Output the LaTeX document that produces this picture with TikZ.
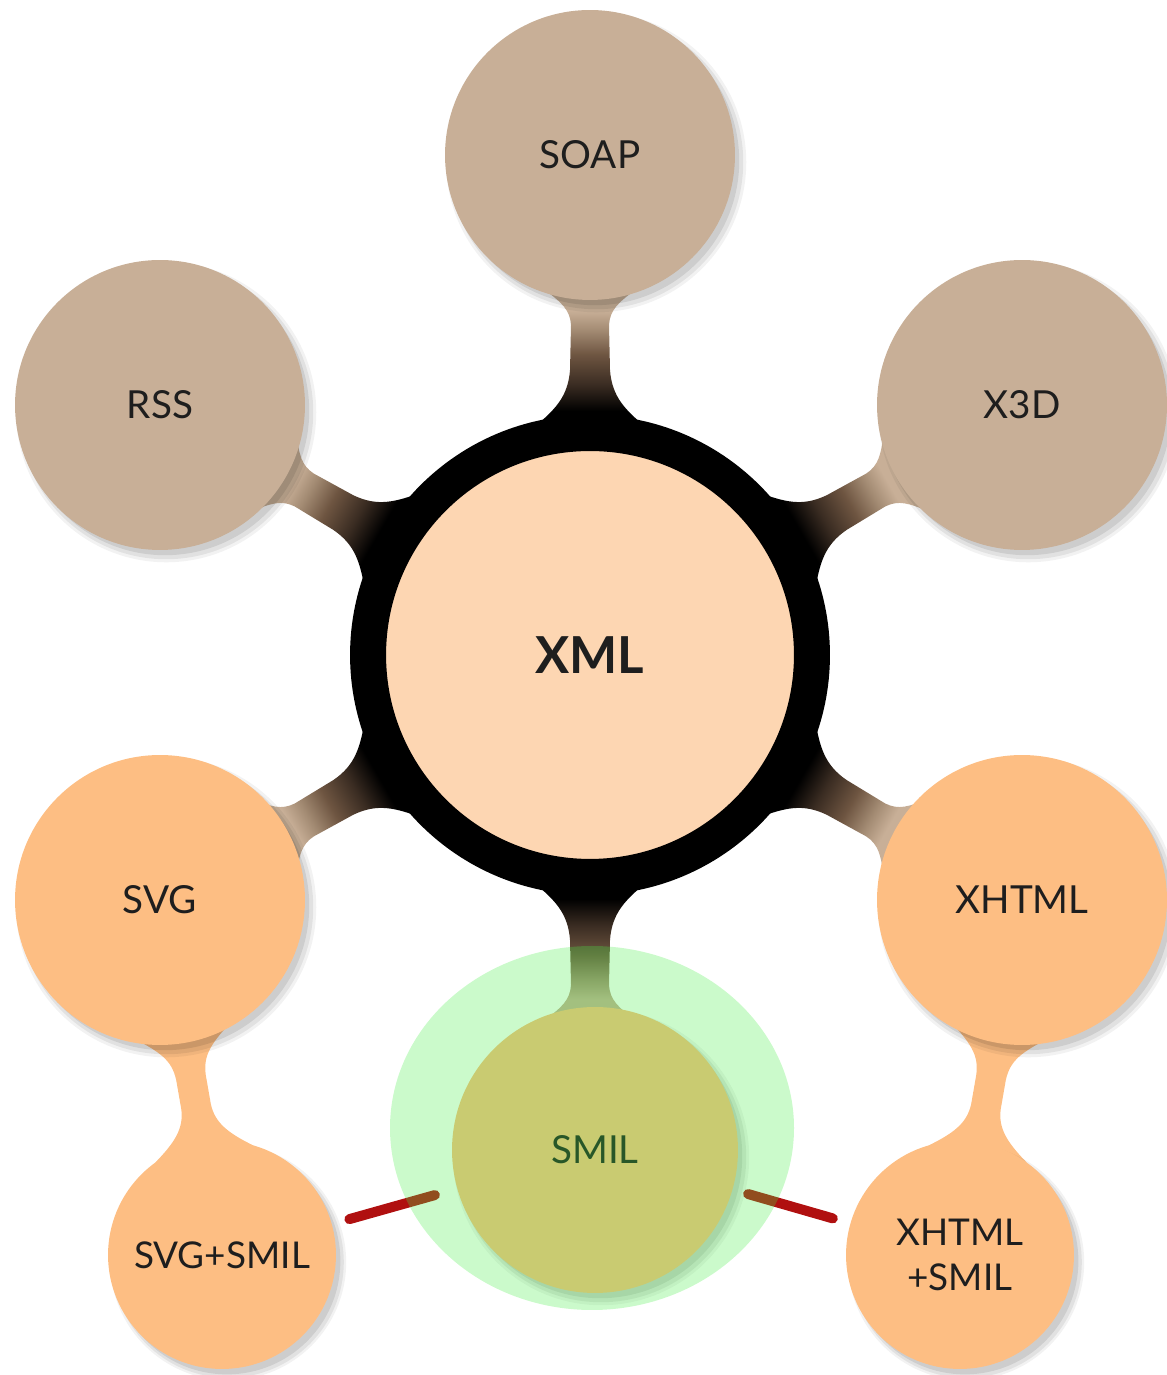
\documentclass[tikz,border=0pt]{standalone}
\usepackage{fontspec}
\setmainfont{Lato}
\usetikzlibrary{shadows,backgrounds}

\definecolor{tanfill}{HTML}{C8AF97}
\definecolor{peach}{HTML}{FDD6B2}
\definecolor{orangefill}{HTML}{FDBE83}
\definecolor{neckdark}{HTML}{3A2C22}
\definecolor{neckmid}{HTML}{6E5541}
\definecolor{necklight}{HTML}{A38B73}
\definecolor{inkcol}{HTML}{1E1E1E}
\definecolor{glowgreen}{HTML}{44EE44}
\definecolor{linkred}{HTML}{B01010}

% gradient along a hub neck: black at the ring, tan at the bubble
% (80bp long, centred on the neck)
\pgfdeclarehorizontalshading{neckshade}{100bp}{%
  color(0bp)=(black); color(11bp)=(black); color(26bp)=(neckdark);
  color(43bp)=(neckmid); color(57bp)=(necklight);
  color(68bp)=(tanfill); color(80bp)=(tanfill)}

\tikzset{
  softshadow/.style={
    general shadow={fill=black, opacity=.05, shadow xshift=.12cm, shadow yshift=-.14cm, shadow scale=1.035},
    general shadow={fill=black, opacity=.07, shadow xshift=.12cm, shadow yshift=-.14cm, shadow scale=1.015},
    general shadow={fill=black, opacity=.09, shadow xshift=.10cm, shadow yshift=-.12cm, shadow scale=.995}},
  bubble/.style={circle, inner sep=0pt, text=inkcol, softshadow,
    font=\fontsize{22}{26}\selectfont},
  bigbubble/.style={bubble, minimum size=5.8cm},
  smallbubble/.style={bubble, minimum size=4.56cm, font=\fontsize{21}{25.5}\selectfont, align=center},
  linkline/.style={draw=linkred, line width=.2cm, line cap=round},
}

% tapered neck joining the hub ring to an outer bubble
\newcommand\hubneck[1]{%
  \begin{scope}[shift={(xml.center)}, rotate=#1]
    \clip (226,-58) .. controls (245,-35) and (258,-22) .. (285,-20)
      -- (330,-19) .. controls (345,-20) and (352,-28) .. (365,-45) -- (365,45)
      .. controls (352,28) and (345,20) .. (330,19) -- (285,20)
      .. controls (258,22) and (245,35) .. (226,58) -- cycle;
    \begin{scope}[shift={(295,0)}]
      \pgflowlevelsynccm
      \pgfuseshading{neckshade}
    \end{scope}
  \end{scope}}

% narrow orange neck joining a bubble to the one below it
\newcommand\pairneck[2]{%
  \begin{scope}[shift={(#1.center)}, rotate=#2]
    \fill[orangefill]
      (128,-55) .. controls (150,-25) and (160,-16) .. (180,-15)
      -- (210,-15) .. controls (228,-16) and (240,-25) .. (258,-50) -- (258,50)
      .. controls (240,25) and (228,16) .. (210,15) -- (180,15)
      .. controls (160,16) and (150,25) .. (128,55) -- cycle;
  \end{scope}}

\begin{document}
\begin{tikzpicture}[x=0.02cm, y=0.02cm]
\useasboundingbox (0,0) rectangle (1166,1375);

% hub
\node[circle, inner sep=0pt, minimum size=8.88cm, fill=peach, draw=black,
      line width=.72cm, text=inkcol, font=\fontsize{29}{34}\selectfont\bfseries]
      (xml) at (590,720) {XML};

% outer bubbles
\node[bigbubble, fill=tanfill]    (soap)  at (590,1220) {SOAP};
\node[bigbubble, fill=tanfill]    (rss)   at (160,970)  {RSS};
\node[bigbubble, fill=tanfill]    (x3d)   at (1022,970) {X3D};
\node[bigbubble, fill=orangefill] (svg)   at (160,475)  {SVG};
\node[bigbubble, fill=orangefill] (xhtml) at (1022,475) {XHTML};
\node[bigbubble, fill=orangefill, minimum size=5.72cm] (smil) at (595,225) {SMIL};
\node[smallbubble, fill=orangefill] (svgsmil)   at (222,120) {SVG+SMIL};
\node[smallbubble, fill=orangefill] (xhtmlsmil) at (960,120) {XHTML\\+SMIL};

\begin{pgfonlayer}{background}
  \hubneck{90}
  \hubneck{150}
  \hubneck{30}
  \hubneck{210}
  \hubneck{-30}
  \hubneck{-90}
  \pairneck{svg}{-80.1}
  \pairneck{xhtml}{-99.9}
\end{pgfonlayer}

% links from SMIL to the combined formats
\draw[linkline, shorten <=.46cm, shorten >=.36cm] (smil) -- (svgsmil);
\draw[linkline, shorten <=.32cm, shorten >=.36cm] (smil) -- (xhtmlsmil);

% highlight around the selected bubble
\fill[glowgreen, opacity=.28] ([shift={(-3,22)}]smil.center) ellipse (202 and 182);
\end{tikzpicture}
\end{document}
